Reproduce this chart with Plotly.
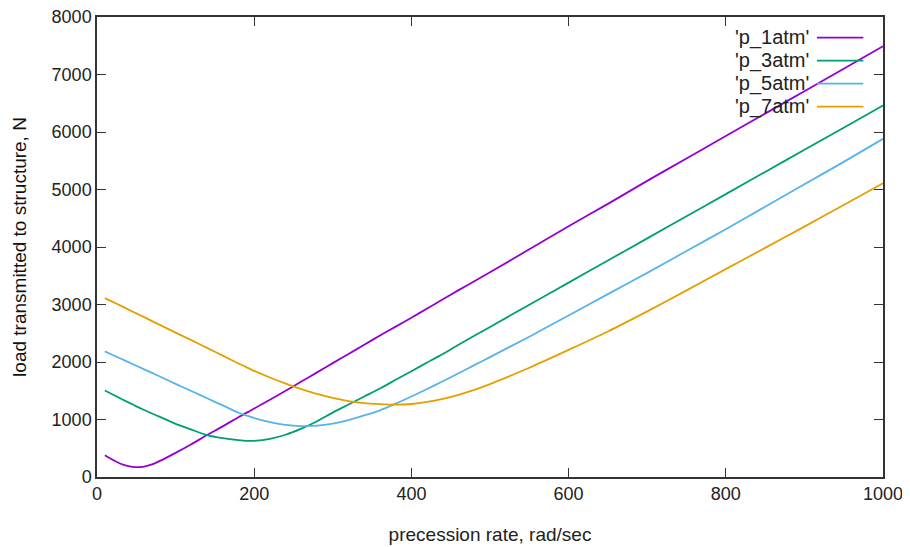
import plotly.graph_objects as go

# precession rate, rad/sec
rate = [10, 20, 30, 40, 50, 60, 70, 80, 100, 120, 140, 160, 180, 190, 200, 220, 240, 260, 280,
        300, 320, 340, 360, 380, 400, 420, 440, 460, 480, 500, 550, 600, 650, 700, 750, 800,
        850, 900, 950, 1000]

p_1atm = [380, 300, 230, 188, 172, 182, 220, 280, 420, 570, 730, 880, 1040, 1115, 1190, 1345, 1500, 1660, 1820,
          1980, 2140, 2300, 2460, 2615, 2770, 2930, 3090, 3250, 3405, 3560, 3960, 4360, 4750, 5150, 5540, 5930,
          6320, 6710, 7100, 7490]

p_3atm = [1505, 1435, 1365, 1297, 1228, 1165, 1105, 1045, 925, 825, 728, 675, 640, 628, 630, 665, 735, 840, 970,
          1120, 1260, 1400, 1540, 1690, 1840, 1990, 2140, 2300, 2455, 2610, 2995, 3380, 3765, 4150, 4535, 4920,
          5305, 5690, 6075, 6460]

p_5atm = [2185, 2122, 2060, 1997, 1935, 1872, 1810, 1747, 1620, 1495, 1370, 1245, 1118, 1070, 1025, 955, 905, 886, 893,
          930, 990, 1070, 1160, 1275, 1400, 1530, 1665, 1805, 1945, 2085, 2440, 2810, 3180, 3550, 3930, 4310,
          4700, 5090, 5480, 5880]

p_7atm = [3110, 3045, 2980, 2910, 2845, 2780, 2710, 2645, 2510, 2380, 2245, 2110, 1975, 1910, 1845, 1730, 1625, 1530, 1445,
          1375, 1320, 1285, 1268, 1258, 1270, 1305, 1360, 1430, 1515, 1615, 1900, 2210, 2530, 2880, 3245, 3615,
          3985, 4355, 4730, 5110]

series_names = ["'p_1atm'", "'p_3atm'", "'p_5atm'", "'p_7atm'"]
series_vals = [p_1atm, p_3atm, p_5atm, p_7atm]
colors = ["#9400d3", "#009e73", "#56b4e9", "#e69f00"]

x_ticks = [0, 200, 400, 600, 800, 1000]
y_ticks = [0, 1000, 2000, 3000, 4000, 5000, 6000, 7000, 8000]

FONT = "Liberation Sans"
fig = go.Figure()
for name, vals, c in zip(series_names, series_vals, colors):
    fig.add_trace(go.Scatter(x=rate, y=vals, mode="lines", name=name,
                             line=dict(color=c, width=1.8, shape="spline", smoothing=0.6)))

# custom gnuplot-style legend (text right, sample line after)
leg_y = [0.955, 0.905, 0.855, 0.805]
for i, (name, c) in enumerate(zip(series_names, colors)):
    fig.add_annotation(xref="paper", yref="paper", x=0.908, y=leg_y[i], text=name,
                       showarrow=False, xanchor="right", yanchor="middle",
                       font=dict(family=FONT, size=20, color="#222"))
    fig.add_shape(type="line", xref="paper", yref="paper", x0=0.916, x1=0.975,
                  y0=leg_y[i], y1=leg_y[i], line=dict(color=c, width=1.8))

axis_common = dict(showgrid=False, zeroline=False, showline=True, linecolor="#333", linewidth=1.5,
                   mirror="ticks", ticks="inside", ticklen=9, tickcolor="#333", tickwidth=1.3,
                   automargin=False, ticklabeloverflow="allow",
                   tickfont=dict(family=FONT, size=18, color="#222"))

fig.update_xaxes(range=[0, 1000], tickvals=x_ticks, ticktext=[str(v) for v in x_ticks],
                 title=dict(text="precession rate, rad/sec", font=dict(family=FONT, size=19, color="#222"),
                            standoff=24),
                 **axis_common)
fig.update_yaxes(range=[0, 8000], tickvals=y_ticks, ticktext=[str(v) for v in y_ticks],
                 title=dict(text="load transmitted to structure, N",
                            font=dict(family=FONT, size=19, color="#111"), standoff=20),
                 **axis_common)

# the page body adds an 8px offset, so the figure is sized/margined to compensate
fig.update_layout(width=902, height=539, margin=dict(l=89, r=27, t=9, b=70),
                  plot_bgcolor="white", paper_bgcolor="white", showlegend=False)

fig.write_html("out.html")
